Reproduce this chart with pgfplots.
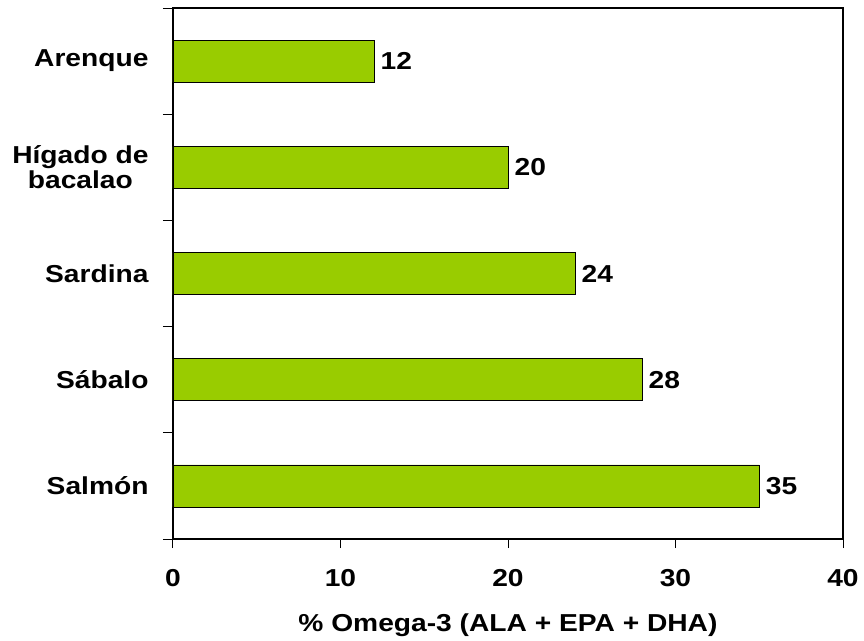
\documentclass[border=0pt]{standalone}
\usepackage{pgfplots}
\pgfplotsset{compat=1.18}
\usepackage{fontspec}
\setmainfont{Liberation Sans}[FakeStretch=1.15]
\definecolor{barra}{HTML}{99CC00}
\newcommand{\etiq}{\fontsize{24.5bp}{25bp}\selectfont\bfseries}
\begin{document}
\begin{tikzpicture}
\begin{axis}[
    name=ax, at={(0,0)}, anchor=south west,
    scale only axis, width=670bp, height=531bp,
    xbar, bar width=42bp,
    xmin=0, xmax=40, xtick={0,10,...,40},
    ymin=-0.5, ymax=4.5, y dir=reverse,
    ytick={0,...,4},
    yticklabels={Arenque, {Hígado de\\bacalao}, Sardina, Sábalo, Salmón},
    minor ytick={-0.5,0.5,...,4.5},
    tick pos=left,
    tick align=outside,
    major tick length=9bp, minor tick length=10bp,
    major y tick style={draw=none},
    every tick/.style={black, line width=1bp},
    axis line style={black, line width=1.2bp},
    /pgf/number format/assume math mode=true,
    tick label style={font=\etiq},
    yticklabel style={align=center, xshift=-12bp},
    xticklabel style={yshift=-18bp},
    xlabel={\% Omega-3 (ALA + EPA + DHA)},
    xlabel style={font=\etiq, yshift=-20bp},
    nodes near coords,
    nodes near coords style={font=\etiq, anchor=west, xshift=3bp},
]
\addplot[draw=black, line width=0.8bp, fill=barra] coordinates {
    (12,0) (20,1) (24,2) (28,3) (35,4)
};
\end{axis}
\pgfresetboundingbox
\path[use as bounding box] (-173bp,-102bp) rectangle (691bp,539bp);
\end{tikzpicture}
\end{document}
